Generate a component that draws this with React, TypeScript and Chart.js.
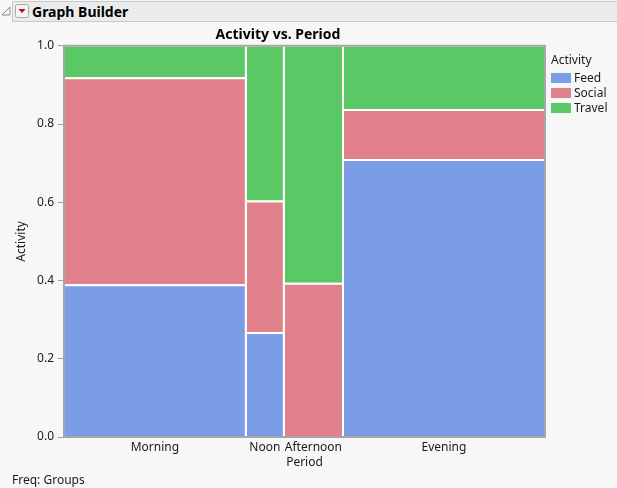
import React, { useEffect, useRef } from 'react';
import { Chart, registerables } from 'chart.js';

Chart.register(...registerables);

// ---- data ----
const periods = ['Morning', 'Noon', 'Afternoon', 'Evening'];
const periodShares = [0.378, 0.079, 0.123, 0.42];
const activities = ['Feed', 'Social', 'Travel'];
const feedShares = [0.388, 0.266, 0.0, 0.708];
const socialShares = [0.529, 0.336, 0.392, 0.128];
const travelShares = [0.083, 0.398, 0.608, 0.164];
const activityColors = ['#7B9CE6', '#E1818B', '#59C865'];
const yTickValues = [0, 0.2, 0.4, 0.6, 0.8, 1.0];

const FONT = '"Noto Sans", "Open Sans", sans-serif';

const shareRows = [feedShares, socialShares, travelShares];

function buildDatasets() {
  const datasets: any[] = [];
  let x0 = 0;
  periods.forEach((_p, i) => {
    const x1 = x0 + periodShares[i];
    let y0 = 0;
    activities.forEach((a, j) => {
      const v = shareRows[j][i];
      const y1 = y0 + v;
      if (v > 0) {
        datasets.push({
          label: a,
          data: [
            { x: x0, y: y0 },
            { x: x1, y: y0 },
            { x: x1, y: y1 },
            { x: x0, y: y1 },
            { x: x0, y: y0 },
          ],
          showLine: true,
          fill: 'shape',
          backgroundColor: activityColors[j],
          borderColor: '#ffffff',
          borderWidth: 2,
          borderJoinStyle: 'miter',
          borderCapStyle: 'square',
          pointRadius: 0,
          pointHoverRadius: 0,
          tension: 0,
        });
      }
      y0 = y1;
    });
    x0 = x1;
  });
  return datasets;
}

function periodCenters() {
  const centers: number[] = [];
  let x0 = 0;
  periodShares.forEach((s) => {
    centers.push(x0 + s / 2);
    x0 += s;
  });
  return centers;
}

const framePlugin = {
  id: 'mosaicFrame',
  beforeDatasetsDraw(chart: any) {
    const { ctx, chartArea: a } = chart;
    ctx.save();
    ctx.fillStyle = '#ffffff';
    ctx.fillRect(a.left, a.top, a.right - a.left, a.bottom - a.top);
    ctx.restore();
  },
  afterDatasetsDraw(chart: any) {
    const { ctx, chartArea: a } = chart;
    ctx.save();
    ctx.strokeStyle = '#a6a6a6';
    ctx.lineWidth = 2;
    ctx.strokeRect(a.left, a.top, a.right - a.left, a.bottom - a.top);
    ctx.restore();
  },
};

function MosaicChart() {
  const ref = useRef<HTMLCanvasElement | null>(null);
  useEffect(() => {
    if (!ref.current) return;
    const centers = periodCenters();
    const chart = new Chart(ref.current, {
      type: 'scatter',
      data: { datasets: buildDatasets() },
      options: {
        animation: false,
        responsive: false,
        devicePixelRatio: 1,
        events: [],
        layout: { padding: { left: 11, right: 72, top: 22, bottom: 0 } },
        plugins: {
          legend: { display: false },
          tooltip: { enabled: false },
          title: {
            display: true,
            text: 'Activity vs. Period',
            color: '#000000',
            font: { family: FONT, size: 14, weight: 'bold' },
            padding: { top: 5, bottom: 2 },
          },
        },
        scales: {
          x: {
            type: 'linear',
            min: 0,
            max: 1,
            position: 'bottom',
            afterBuildTicks: (s: any) => {
              s.ticks = centers.map((v) => ({ value: v }));
            },
            afterFit: (s: any) => {
              s.height = 51;
            },
            ticks: {
              autoSkip: false,
              maxRotation: 0,
              minRotation: 0,
              padding: 3,
              color: '#1a1a1a',
              font: { family: FONT, size: 12 },
              callback: (_v: any, i: number) => periods[i],
            },
            grid: { display: false, drawTicks: false },
            border: { display: false },
            title: {
              display: true,
              text: 'Period',
              color: '#1a1a1a',
              font: { family: FONT, size: 12 },
              padding: { top: 0, bottom: 18 },
            },
          },
          y: {
            type: 'linear',
            min: 0,
            max: 1,
            afterBuildTicks: (s: any) => {
              s.ticks = yTickValues.map((v) => ({ value: v }));
            },
            afterFit: (s: any) => {
              s.width = 53;
            },
            ticks: {
              padding: 4,
              color: '#1a1a1a',
              font: { family: FONT, size: 12 },
              callback: (v: any) => Number(v).toFixed(1),
            },
            grid: {
              drawOnChartArea: false,
              drawTicks: true,
              tickLength: 6,
              color: '#a0a0a0',
              lineWidth: 1,
            },
            border: { display: false },
            title: {
              display: true,
              text: 'Activity',
              color: '#1a1a1a',
              font: { family: FONT, size: 12 },
              padding: { top: 3.5, bottom: 0 },
            },
          },
        },
      },
      plugins: [framePlugin],
    } as any);
    return () => chart.destroy();
  }, []);
  return <canvas ref={ref} width={617} height={488} style={{ display: 'block', width: 617, height: 488 }} />;
}

function Legend() {
  return (
    <div style={{ position: 'absolute', left: 551, top: 0, fontFamily: FONT, fontSize: 12, color: '#1a1a1a' }}>
      <div style={{ position: 'absolute', left: 0, top: 53, lineHeight: '14px', whiteSpace: 'nowrap' }}>Activity</div>
      {activities.map((a, j) => (
        <div key={a} style={{ position: 'absolute', left: 0, top: 71 + j * 15, height: 14, whiteSpace: 'nowrap' }}>
          <div style={{ position: 'absolute', left: 0, top: 2, width: 20, height: 10, background: activityColors[j] }} />
          <div style={{ position: 'absolute', left: 23, top: 0, lineHeight: '14px' }}>{a}</div>
        </div>
      ))}
    </div>
  );
}

function Header() {
  return (
    <>
      <svg style={{ position: 'absolute', left: 0, top: 0 }} width={12} height={22}>
        <polygon points="10,7 10,15 2,15" fill="none" stroke="#8a8a8a" strokeWidth={1} />
      </svg>
      <div
        style={{
          position: 'absolute',
          left: 12,
          top: 1,
          width: 605,
          height: 21,
          boxSizing: 'border-box',
          background: '#ebebeb',
          border: '1px solid #c9c9c9',
          borderRight: 'none',
        }}
      />
      <svg style={{ position: 'absolute', left: 15, top: 4 }} width={15} height={15}>
        <rect x={0.5} y={0.5} width={13} height={13} rx={2} fill="#f4f4f4" stroke="#a9a9a9" />
        <polygon points="3.5,5 10.5,5 7,9" fill="#d40000" />
      </svg>
      <div
        style={{
          position: 'absolute',
          left: 32,
          top: 2,
          lineHeight: '20px',
          fontFamily: FONT,
          fontSize: 14,
          fontWeight: 'bold',
          color: '#000',
          whiteSpace: 'nowrap',
        }}
      >
        Graph Builder
      </div>
    </>
  );
}

export default function App() {
  return (
    <div style={{ position: 'absolute', left: 0, top: 0, width: 617, height: 488, background: '#f7f7f7', overflow: 'hidden' }}>
      <MosaicChart />
      <Header />
      <Legend />
      <div
        style={{
          position: 'absolute',
          left: 12,
          top: 473,
          lineHeight: '14px',
          fontFamily: FONT,
          fontSize: 12,
          color: '#1a1a1a',
          whiteSpace: 'nowrap',
        }}
      >
        Freq: Groups
      </div>
    </div>
  );
}
